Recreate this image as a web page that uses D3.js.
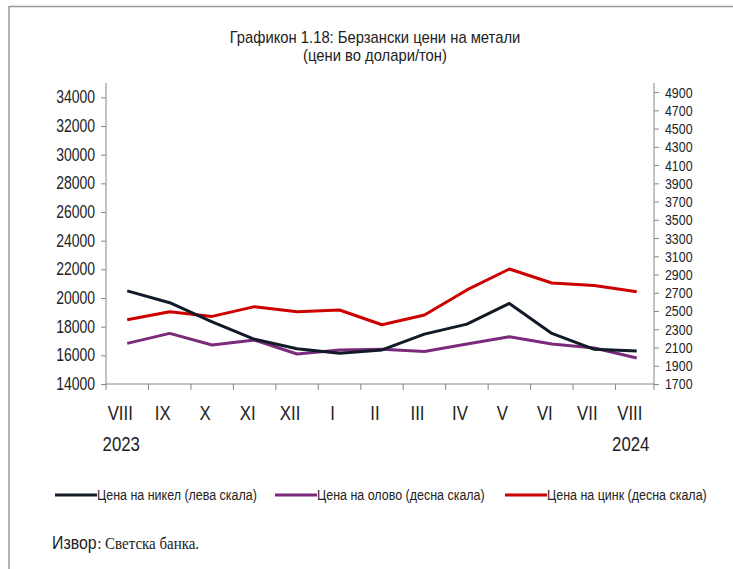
<!DOCTYPE html>
<html>
<head>
<meta charset="utf-8">
<script src="https://cdn.jsdelivr.net/npm/d3@7"></script>
<style>
  html, body { margin: 0; padding: 0; background: #fff; }
  svg { display: block; }
  text { font-family: "Liberation Sans Narrow", "Arial Narrow", "Liberation Sans", Arial, sans-serif; fill: #222; }
</style>
</head>
<body>
<svg id="chart" width="733" height="569"></svg>
<script>
// ---- data ----
const months = ["VIII", "IX", "X", "XI", "XII", "I", "II", "III", "IV", "V", "VI", "VII", "VIII"];
const yearLabels = ["2023", "", "", "", "", "", "", "", "", "", "", "", "2024"];
const nickel = [20500, 19670, 18340, 17120, 16460, 16140, 16380, 17480, 18180, 19620, 17530, 16420, 16300];
const lead   = [2145, 2255, 2128, 2182, 2029, 2073, 2080, 2057, 2139, 2219, 2139, 2095, 1985];
const zinc   = [2405, 2493, 2441, 2548, 2493, 2511, 2350, 2456, 2731, 2961, 2807, 2781, 2712];
const leftTicks = d3.range(14000, 34001, 2000);
const rightTicks = d3.range(1700, 4901, 200);
const seriesNames = ["Цена на никел (лева скала)", "Цена на олово (десна скала)", "Цена на цинк (десна скала)"];
const seriesColors = ["#101b27", "#7b2a7c", "#cc0000"];

const svg = d3.select("#chart");
const SX = 0.8; // horizontal condensing to mimic a narrow face

function narrowText(parent, ax, ay, str, size, anchor, sx) {
  return parent.append("text")
    .attr("transform", `translate(${ax},${ay}) scale(${sx},1)`)
    .attr("text-anchor", anchor || "start")
    .style("font-size", size + "px")
    .text(str);
}

// frame
svg.append("line").attr("x1", 9).attr("x2", 733).attr("y1", 6.5).attr("y2", 6.5).attr("stroke", "#999").attr("stroke-width", 1.5);
svg.append("line").attr("x1", 9).attr("x2", 9).attr("y1", 6).attr("y2", 569).attr("stroke", "#999").attr("stroke-width", 1.5);

// title
narrowText(svg, 375, 43, "Графикон 1.18: Берзански цени на метали", 17, "middle", 0.87);
narrowText(svg, 375, 61, "(цени во долари/тон)", 17, "middle", 0.87);

const x0 = 106, x1 = 658, yTop = 83, yBot = 384;
const x = d3.scaleBand().domain(d3.range(months.length)).range([x0, x1]);
const yL = d3.scaleLinear().domain([14000, 35000]).range([yBot, yTop]);
const yR = d3.scaleLinear().domain([1700, 5000]).range([yBot, yTop]);

const axisColor = "#888";

// left axis
const gL = svg.append("g").attr("transform", `translate(${x0},0)`)
  .call(d3.axisLeft(yL).tickValues(leftTicks).tickSize(5).tickPadding(7).tickFormat(d3.format("d")));
gL.select(".domain").attr("stroke", axisColor).attr("d", `M-0,${yTop}V${yBot}`);
gL.selectAll(".tick line").attr("stroke", axisColor);
gL.selectAll(".tick text").style("font-size", "17.5px").attr("fill", "#222")
  .attr("transform", `scale(${SX},1)`).attr("x", -11 / SX);

// right axis
const xr = x1 - 4;
const gR = svg.append("g").attr("transform", `translate(${xr},0)`)
  .call(d3.axisRight(yR).tickValues(rightTicks).tickSize(5).tickPadding(7).tickFormat(d3.format("d")));
gR.select(".domain").attr("stroke", axisColor).attr("d", `M0,${yTop}V${yBot}`);
gR.selectAll(".tick line").attr("stroke", axisColor);
gR.selectAll(".tick text").style("font-size", "15.5px").attr("fill", "#222")
  .attr("transform", `scale(${SX},1)`).attr("x", 11 / SX);

// bottom axis
const bounds = d3.range(months.length).map(i => x(i)).concat([xr]);
svg.append("line").attr("x1", x0).attr("x2", xr).attr("y1", yBot).attr("y2", yBot).attr("stroke", axisColor);
svg.append("g").selectAll("line").data(bounds).join("line")
  .attr("x1", d => d).attr("x2", d => d).attr("y1", yBot).attr("y2", yBot + 6).attr("stroke", axisColor);

const cx = i => x(i) + x.bandwidth() / 2;
const gX = svg.append("g");
months.forEach((m, i) => narrowText(gX, cx(i) - 7, 420, m, 21, "middle", SX));
yearLabels.forEach((m, i) => { if (m) narrowText(gX, cx(i) - 6, 451, m, 21, "middle", SX); });

// lines
const series = [
  { values: nickel, scale: yL },
  { values: lead, scale: yR },
  { values: zinc, scale: yR }
];
[2, 1, 0].forEach(k => {
  const s = series[k];
  const line = d3.line().x((d, i) => cx(i)).y(d => s.scale(d));
  svg.append("path").datum(s.values).attr("d", line)
    .attr("fill", "none").attr("stroke", seriesColors[k]).attr("stroke-width", 3)
    .attr("stroke-linejoin", "round");
});

// legend
const legendX = [55, 275, 505];
seriesNames.forEach((name, k) => {
  const g = svg.append("g").attr("transform", `translate(${legendX[k]},495)`);
  g.append("line").attr("x1", 0).attr("x2", 42).attr("y1", 0).attr("y2", 0)
    .attr("stroke", seriesColors[k]).attr("stroke-width", 3);
  narrowText(g, 42, 5, name, 14.5, "start", 0.86);
});

// source
const gs = svg.append("g");
const izvor = narrowText(gs, 52, 549, "Извор", 18.5, "start", 0.86);
const izW = izvor.node().getComputedTextLength() * 0.86;
narrowText(gs, 52 + izW + 0.5, 549, ": Светска банка.", 17, "start", 0.88)
  .style("font-family", "'Liberation Serif', 'Times New Roman', serif");
</script>
</body>
</html>
